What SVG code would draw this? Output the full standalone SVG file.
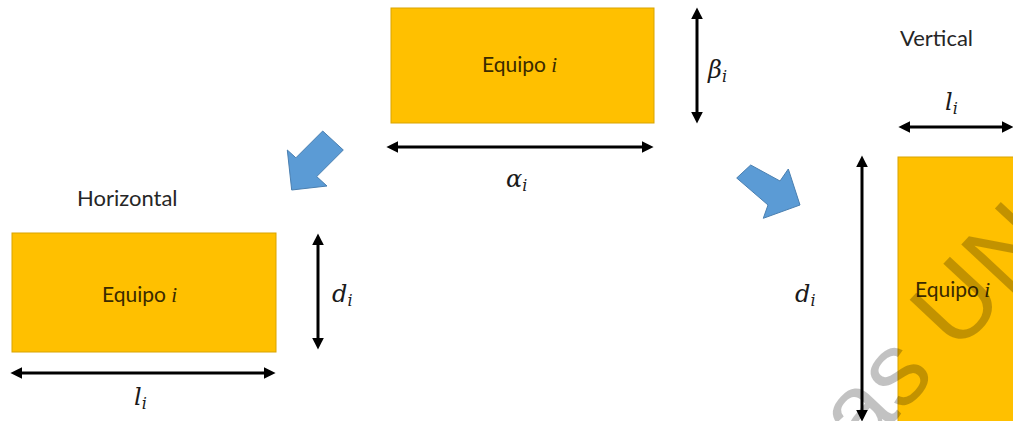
<svg xmlns="http://www.w3.org/2000/svg" width="1013" height="421" viewBox="0 0 1013 421">
<defs>
<style>
.box{fill:#FFC000;stroke:#D9A400;stroke-width:1}
.lbl{font-family:Lato,"Open Sans","Liberation Sans",sans-serif;font-size:22px;fill:#262626}
.eq{font-family:Lato,"Open Sans","Liberation Sans",sans-serif;font-size:21px;fill:#3a2a00}
.m{font-family:"DejaVu Serif","Liberation Serif",serif;font-style:italic;font-size:24px;fill:#1a1a1a}
.mi{font-family:"Liberation Serif","DejaVu Serif",serif;font-style:italic}
.sub{font-size:16px}
.dim{stroke:#000;stroke-width:3;fill:none;marker-start:url(#ah);marker-end:url(#ah)}
.blue{fill:#5B9BD5;stroke:#4A7FB0;stroke-width:1}
.wm{font-family:"Liberation Sans",Arial,sans-serif;font-size:104px;fill:#000;fill-opacity:0.24}
</style>
<marker id="ah" markerUnits="userSpaceOnUse" markerWidth="12" markerHeight="12" viewBox="0 0 10 10" refX="2" refY="5" orient="auto-start-reverse">
<path d="M0,0 L10,5 L0,10 z" fill="#000"/>
</marker>
</defs>

<g id="node-top">
<rect class="box" x="391" y="8" width="263" height="115"/>
<text class="eq" x="482" y="72">Equipo <tspan class="mi">i</tspan></text>
</g>

<g id="node-horizontal">
<text class="lbl" x="77" y="206">Horizontal</text>
<rect class="box" x="12" y="233" width="264" height="119"/>
<text class="eq" x="102" y="302">Equipo <tspan class="mi">i</tspan></text>
</g>

<g id="node-vertical">
<text class="lbl" x="900" y="46">Vertical</text>
<rect class="box" x="898" y="157" width="120" height="270"/>
<text class="eq" x="915" y="297">Equipo <tspan class="mi">i</tspan></text>
</g>

<g id="labels">
<text class="m" x="506" y="187">α<tspan class="sub" dy="4">i</tspan></text>
<text class="m" x="708" y="78">β<tspan class="sub" dy="4">i</tspan></text>
<text class="m" x="332" y="302">d<tspan class="sub" dy="4">i</tspan></text>
<text class="m" x="134" y="405">l<tspan class="sub" dy="4">i</tspan></text>
<text class="m" x="945" y="110">l<tspan class="sub" dy="4">i</tspan></text>
<text class="m" x="795" y="302">d<tspan class="sub" dy="4">i</tspan></text>
</g>

<g id="connectors">
<line class="dim" x1="697" y1="17" x2="697" y2="114"/>
<line class="dim" x1="396" y1="147" x2="644" y2="147"/>
<line class="dim" x1="318" y1="243" x2="318" y2="340"/>
<line class="dim" x1="20" y1="373" x2="266" y2="373"/>
<line class="dim" x1="908" y1="127" x2="1004" y2="127"/>
<line class="dim" x1="862" y1="165" x2="862" y2="412"/>
<polygon class="blue" points="322.7,131 343.3,150 316.7,176.6 327,186 291.7,190 287.3,150 295.9,157.8"/>
<polygon class="blue" points="750.7,165 780,181 788.3,169 800,205 763.3,218.3 768,205 736.7,178"/>
</g>

<text class="wm" transform="translate(862,456) rotate(-47)">as UN</text>
</svg>
